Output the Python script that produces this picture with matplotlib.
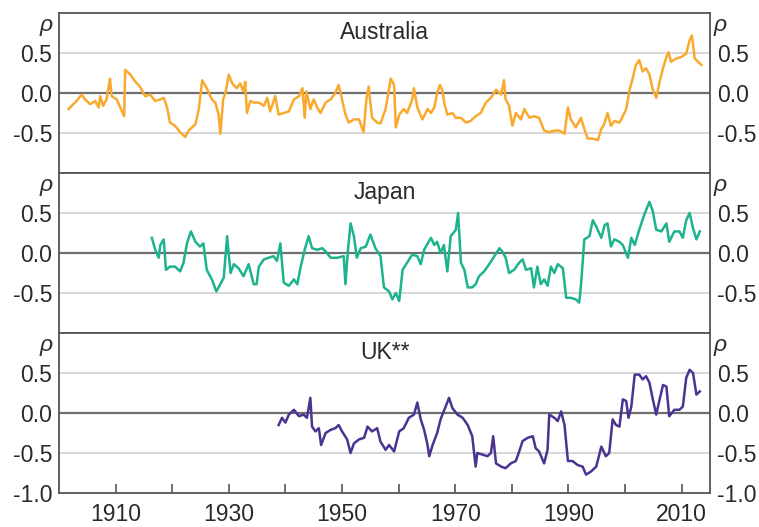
import matplotlib
matplotlib.use("Agg")
import matplotlib.pyplot as plt

plt.rcParams["font.family"] = ["Liberation Sans", "DejaVu Sans"]

# ---- data ----
aus_years = [1901.7, 1903.1, 1904.0, 1904.6, 1905.5, 1906.4, 1907.0, 1907.3, 1907.8, 1908.4,
             1909.0, 1909.3, 1910.2, 1911.5, 1911.7, 1912.6, 1913.5, 1914.3, 1915.2, 1916.1,
             1917.0, 1917.9, 1918.5, 1919.1, 1919.6, 1920.5, 1921.4, 1922.3, 1922.9, 1923.5,
             1924.1, 1924.7, 1925.3, 1926.1, 1927.0, 1927.6, 1928.2, 1928.5, 1929.0, 1929.4,
             1930.0, 1930.6, 1931.4, 1932.0, 1932.6, 1932.9, 1933.2, 1933.8, 1934.4, 1935.3,
             1936.2, 1936.8, 1937.3, 1938.2, 1938.8, 1939.7, 1940.6, 1941.5, 1942.4, 1943.0,
             1943.4, 1943.7, 1944.4, 1945.0, 1945.6, 1946.2, 1947.1, 1948.0, 1948.8, 1949.4,
             1950.0, 1950.6, 1951.2, 1952.1, 1953.0, 1953.8, 1954.3, 1954.7, 1955.3, 1956.2,
             1956.8, 1957.7, 1958.6, 1959.2, 1959.5, 1960.1, 1960.9, 1961.5, 1962.4, 1962.7,
             1963.3, 1964.2, 1965.1, 1965.7, 1966.3, 1966.8, 1967.3, 1967.7, 1968.1, 1968.6,
             1969.5, 1970.1, 1971.0, 1971.9, 1972.7, 1973.6, 1974.5, 1975.4, 1976.3, 1977.2,
             1978.1, 1978.6, 1978.9, 1979.5, 1980.1, 1980.7, 1981.6, 1982.2, 1983.1, 1983.9,
             1984.8, 1985.7, 1986.6, 1987.5, 1988.4, 1989.3, 1989.9, 1990.4, 1991.3, 1992.2,
             1992.8, 1993.4, 1994.3, 1995.2, 1995.8, 1996.3, 1996.9, 1997.5, 1998.1, 1999.0,
             1999.6, 2000.2, 2000.8, 2001.4, 2001.9, 2002.5, 2003.1, 2003.7, 2004.3, 2004.9,
             2005.5, 2006.1, 2006.7, 2007.3, 2007.7, 2008.1, 2009.0, 2009.9, 2010.8, 2011.4,
             2011.8, 2012.3, 2012.9, 2013.5]
aus_rho = [-0.20, -0.10, -0.02, -0.08, -0.14, -0.10, -0.18, -0.04, -0.16, -0.08,
           0.18, -0.04, -0.08, -0.29, 0.29, 0.23, 0.14, 0.08, -0.04, -0.02,
           -0.10, -0.08, -0.06, -0.18, -0.37, -0.41, -0.49, -0.55, -0.47, -0.43,
           -0.39, -0.20, 0.16, 0.06, -0.08, -0.12, -0.27, -0.51, -0.08, 0.00,
           0.23, 0.12, 0.06, 0.12, 0.02, 0.14, -0.25, -0.10, -0.12, -0.12,
           -0.16, -0.06, -0.23, -0.04, -0.27, -0.25, -0.23, -0.08, -0.04, 0.06,
           -0.31, 0.02, -0.20, -0.08, -0.18, -0.25, -0.12, -0.08, 0.00, 0.10,
           -0.08, -0.27, -0.37, -0.33, -0.33, -0.49, -0.08, 0.08, -0.31, -0.37,
           -0.38, -0.20, 0.18, 0.10, -0.43, -0.27, -0.20, -0.25, -0.08, 0.06,
           -0.18, -0.33, -0.20, -0.25, -0.18, 0.00, 0.10, 0.04, -0.14, -0.27,
           -0.25, -0.31, -0.31, -0.37, -0.35, -0.29, -0.25, -0.12, -0.06, 0.04,
           -0.02, 0.16, -0.08, -0.16, -0.41, -0.25, -0.33, -0.20, -0.31, -0.29,
           -0.31, -0.47, -0.49, -0.47, -0.47, -0.51, -0.18, -0.33, -0.43, -0.31,
           -0.45, -0.57, -0.57, -0.59, -0.45, -0.39, -0.25, -0.41, -0.35, -0.37,
           -0.29, -0.20, 0.04, 0.20, 0.35, 0.41, 0.27, 0.31, 0.23, 0.04,
           -0.06, 0.14, 0.31, 0.45, 0.51, 0.39, 0.43, 0.45, 0.49, 0.66,
           0.72, 0.43, 0.39, 0.35]

jpn_years = [1916.4, 1917.0, 1917.6, 1917.9, 1918.5, 1918.9, 1919.6, 1920.5, 1921.4, 1922.0,
             1922.6, 1923.3, 1924.1, 1924.9, 1925.5, 1926.1, 1927.0, 1927.8, 1928.5, 1929.1,
             1929.7, 1930.3, 1930.9, 1931.7, 1932.6, 1933.5, 1934.4, 1934.9, 1935.3, 1936.2,
             1937.0, 1937.9, 1938.5, 1939.1, 1939.7, 1940.6, 1941.5, 1942.1, 1942.7, 1943.4,
             1944.1, 1944.7, 1945.6, 1946.5, 1947.1, 1948.0, 1949.1, 1950.3, 1950.6, 1951.0,
             1951.5, 1952.1, 1952.6, 1953.3, 1954.2, 1955.0, 1955.9, 1956.8, 1957.4, 1958.3,
             1958.9, 1959.5, 1960.1, 1960.7, 1961.5, 1962.4, 1963.3, 1963.9, 1964.5, 1965.7,
             1966.3, 1966.8, 1967.4, 1968.0, 1968.6, 1969.2, 1970.1, 1970.5, 1971.0, 1971.6,
             1972.2, 1973.0, 1973.6, 1974.2, 1975.1, 1976.0, 1976.9, 1977.8, 1978.3, 1978.9,
             1979.5, 1980.4, 1981.3, 1981.9, 1982.5, 1983.4, 1983.9, 1984.5, 1985.1, 1985.7,
             1986.3, 1986.9, 1987.5, 1988.1, 1989.0, 1989.6, 1990.4, 1991.3, 1991.9, 1992.2,
             1992.8, 1993.7, 1994.3, 1994.9, 1995.8, 1996.4, 1996.9, 1997.5, 1998.1, 1999.0,
             1999.6, 2000.5, 2001.1, 2001.7, 2002.5, 2003.4, 2004.3, 2004.9, 2005.5, 2006.4,
             2007.3, 2007.8, 2008.7, 2009.6, 2010.2, 2010.8, 2011.4, 2012.0, 2012.6, 2013.2]
jpn_rho = [0.19, 0.04, -0.06, 0.10, 0.17, -0.21, -0.17, -0.17, -0.23, -0.12,
           0.12, 0.27, 0.14, 0.08, 0.12, -0.21, -0.33, -0.48, -0.39, -0.31,
           0.21, -0.25, -0.14, -0.19, -0.29, -0.14, -0.39, -0.39, -0.17, -0.08,
           -0.06, -0.04, -0.10, 0.12, -0.37, -0.41, -0.33, -0.39, -0.17, 0.04,
           0.21, 0.06, 0.04, 0.06, 0.02, -0.06, -0.06, -0.04, -0.39, 0.00,
           0.37, 0.21, -0.06, 0.06, 0.08, 0.23, 0.06, -0.04, -0.43, -0.48,
           -0.58, -0.50, -0.60, -0.21, -0.12, -0.02, -0.04, -0.14, 0.04, 0.19,
           0.10, 0.14, 0.00, 0.10, -0.23, 0.21, 0.29, 0.50, -0.12, -0.21,
           -0.43, -0.43, -0.39, -0.29, -0.23, -0.14, -0.04, 0.06, 0.02, -0.06,
           -0.25, -0.21, -0.12, -0.08, -0.21, -0.19, -0.43, -0.17, -0.39, -0.33,
           -0.41, -0.17, -0.25, -0.14, -0.19, -0.56, -0.56, -0.58, -0.62, -0.41,
           0.17, 0.21, 0.41, 0.33, 0.19, 0.35, 0.37, 0.08, 0.17, 0.14,
           0.10, -0.06, 0.19, 0.10, 0.29, 0.48, 0.64, 0.52, 0.29, 0.27,
           0.37, 0.14, 0.27, 0.27, 0.19, 0.41, 0.50, 0.31, 0.17, 0.27]

uk_years = [1938.8, 1939.4, 1940.0, 1940.6, 1941.5, 1942.4, 1943.2, 1943.8, 1944.4, 1944.7,
            1945.3, 1945.9, 1946.3, 1947.1, 1948.0, 1948.8, 1949.4, 1950.0, 1950.9, 1951.5,
            1952.1, 1953.0, 1953.9, 1954.5, 1955.3, 1956.2, 1956.8, 1957.7, 1958.3, 1959.2,
            1960.1, 1960.9, 1961.8, 1962.7, 1963.3, 1963.9, 1964.5, 1965.1, 1965.4, 1966.0,
            1966.8, 1967.4, 1968.3, 1968.9, 1969.5, 1970.4, 1971.3, 1972.2, 1973.0, 1973.6,
            1973.9, 1974.8, 1975.7, 1976.3, 1976.7, 1977.2, 1978.1, 1978.9, 1979.8, 1980.7,
            1981.3, 1981.9, 1982.8, 1983.7, 1984.2, 1984.8, 1985.7, 1986.3, 1986.6, 1987.5,
            1988.1, 1988.7, 1989.3, 1989.9, 1990.7, 1991.6, 1992.5, 1993.1, 1994.0, 1994.9,
            1995.8, 1996.6, 1997.2, 1997.8, 1998.4, 1999.0, 1999.6, 2000.2, 2000.6, 2001.1,
            2001.7, 2002.5, 2003.1, 2003.7, 2004.3, 2004.9, 2005.5, 2006.1, 2006.7, 2007.3,
            2007.8, 2008.7, 2009.6, 2010.2, 2010.8, 2011.4, 2012.0, 2012.6, 2013.2]
uk_rho = [-0.15, -0.06, -0.12, -0.02, 0.04, -0.04, -0.02, -0.06, 0.19, -0.17,
          -0.23, -0.19, -0.40, -0.25, -0.21, -0.19, -0.15, -0.23, -0.33, -0.50,
          -0.38, -0.33, -0.31, -0.17, -0.23, -0.19, -0.36, -0.46, -0.40, -0.48,
          -0.23, -0.19, -0.06, -0.02, 0.13, -0.08, -0.21, -0.40, -0.54, -0.40,
          -0.25, -0.08, 0.08, 0.19, 0.06, -0.02, -0.06, -0.15, -0.29, -0.67,
          -0.50, -0.52, -0.54, -0.50, -0.29, -0.63, -0.67, -0.69, -0.63, -0.60,
          -0.48, -0.35, -0.31, -0.29, -0.44, -0.48, -0.63, -0.46, -0.02, -0.06,
          -0.10, 0.02, -0.15, -0.60, -0.60, -0.65, -0.67, -0.77, -0.73, -0.67,
          -0.42, -0.54, -0.50, -0.08, -0.15, -0.17, 0.17, 0.15, -0.06, 0.08,
          0.48, 0.48, 0.42, 0.46, 0.38, 0.17, -0.02, 0.17, 0.35, 0.33,
          -0.04, 0.04, 0.04, 0.08, 0.44, 0.54, 0.50, 0.23, 0.27]

panels = [("Australia", aus_years, aus_rho, "#F9AA2E"),
          ("Japan", jpn_years, jpn_rho, "#1DB38E"),
          ("UK**", uk_years, uk_rho, "#4B3391")]

year_ticks = list(range(1910, 2011, 10))
year_labels = [str(y) if (y - 1910) % 20 == 0 else "" for y in year_ticks]
rho_ticks = [0.5, 0.0, -0.5]
rho_labels = ["0.5", "0.0", "-0.5"]

TEXT = "#2a2a2a"
SPINE = "#555555"
FS = 16.5

fig = plt.figure(figsize=(7.59, 5.27), dpi=100)
left, width = 59 / 759, (710 - 59) / 759
panel_h = 160 / 527
top = 1 - 13 / 527

for i, (name, xs, ys, color) in enumerate(panels):
    ax = fig.add_axes([left, top - (i + 1) * panel_h, width, panel_h])
    last = i == len(panels) - 1
    ax.set_xlim(1900, 2015)
    ax.set_ylim(-1, 1)

    for g in (0.5, -0.5):
        ax.axhline(g, color="#cfcfcf", lw=1.2, zorder=1)
    ax.axhline(0, color="#6e6e6e", lw=1.6, zorder=1)
    ax.plot(xs, ys, color=color, lw=1.8, solid_joinstyle="round", zorder=3)

    ticks = rho_ticks + ([-1.0] if last else [])
    labels = rho_labels + (["-1.0"] if last else [])
    ax.set_yticks(ticks, labels)
    ax.tick_params(axis="y", length=0, pad=5, labelsize=FS, labelcolor=TEXT,
                   labelleft=True, labelright=True)

    if last:
        ax.set_xticks(year_ticks, year_labels)
        ax.tick_params(axis="x", direction="in", length=6.5, width=1.2, color=SPINE,
                       pad=7, labelsize=FS, labelcolor=TEXT)
    else:
        ax.set_xticks([])

    for s in ax.spines.values():
        s.set_color(SPINE)
        s.set_linewidth(1.3)

    # panel name and the rho unit labels on both sides (x in axes, y in data)
    trans = ax.get_yaxis_transform()
    ax.text(0.5, 0.67, name, transform=trans, ha="center", va="baseline",
            fontsize=FS, color=TEXT)
    ax.text(-0.009, 0.78, "ρ", transform=trans, ha="right", va="baseline",
            fontsize=FS, style="italic", color=TEXT)
    ax.text(1.005, 0.78, "ρ", transform=trans, ha="left", va="baseline",
            fontsize=FS, style="italic", color=TEXT)

fig.savefig("out.png", dpi=100)
